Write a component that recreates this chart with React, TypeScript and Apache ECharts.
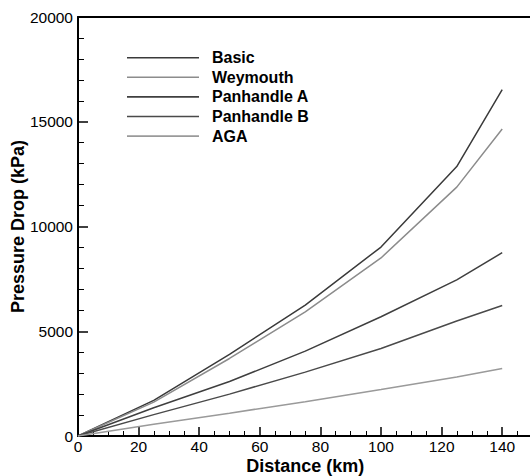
import React, { useEffect, useRef } from "react";
import * as echarts from "echarts";

const distances = [0, 25, 50, 75, 100, 125, 140];
const seriesNames = ["Basic", "Weymouth", "Panhandle A", "Panhandle B", "AGA"];
const basic = [0, 1700, 3900, 6250, 9020, 12860, 16530];
const weymouth = [0, 1620, 3700, 5930, 8500, 11880, 14650];
const panhandleA = [0, 1350, 2600, 4050, 5690, 7450, 8750];
const panhandleB = [0, 1020, 2000, 3050, 4180, 5490, 6230];
const aga = [0, 560, 1090, 1640, 2220, 2820, 3220];
const xTicks = [0, 20, 40, 60, 80, 100, 120, 140];
const yTicks = [0, 5000, 10000, 15000, 20000];

const seriesValues = [basic, weymouth, panhandleA, panhandleB, aga];
const colors = ["#3a3a3a", "#8c8c8c", "#3f3f3f", "#4a4a4a", "#9a9a9a"];
const FONT = "'Liberation Sans', Arial, sans-serif";

export default function App() {
  const ref = useRef<HTMLDivElement>(null);
  useEffect(() => {
    if (!ref.current) return;
    const chart = echarts.init(ref.current, undefined, { renderer: "svg" });
    const axisLine = { show: true, lineStyle: { color: "#000", width: 2 } };
    chart.setOption({
      animation: false,
      backgroundColor: "#fff",
      textStyle: { fontFamily: FONT },
      grid: {
        left: 78,
        top: 17,
        width: 454.5,
        height: 419,
        containLabel: false,
        outerBoundsMode: "none",
      },
      legend: {
        left: 122,
        top: 44.7,
        orient: "vertical",
        icon: "rect",
        itemWidth: 72,
        itemHeight: 1.6,
        itemGap: 3.6,
        data: seriesNames,
        textStyle: {
          fontFamily: FONT,
          fontSize: 16,
          fontWeight: "bold",
          color: "#000",
          lineHeight: 16,
          padding: [0, 0, 0, 8],
        },
      },
      xAxis: [
        {
          type: "value",
          min: 0,
          max: 150,
          interval: xTicks[1] - xTicks[0],
          name: "Distance (km)",
          nameLocation: "middle",
          nameGap: 21,
          nameMoveOverlap: false,
          nameTextStyle: { fontFamily: FONT, fontSize: 18, fontWeight: "bold", color: "#000", lineHeight: 18 },
          axisLine,
          axisTick: { show: true, inside: true, length: 9, lineStyle: { color: "#000", width: 1.5 } },
          minorTick: { show: true, splitNumber: 4, length: 5, lineStyle: { color: "#000", width: 1 } },
          axisLabel: {
            fontFamily: FONT,
            fontSize: 15.5,
            color: "#000",
            margin: 2,
            showMaxLabel: false,
            formatter: (v: number) => (xTicks.includes(v) ? String(v) : ""),
          },
          splitLine: { show: false },
        },
        {
          type: "value",
          min: 0,
          max: 150,
          position: "top",
          axisLine,
          axisTick: { show: false },
          axisLabel: { show: false },
          splitLine: { show: false },
        },
      ],
      yAxis: {
        type: "value",
        min: 0,
        max: 20000,
        interval: yTicks[1] - yTicks[0],
        name: "Pressure Drop (kPa)",
        nameLocation: "middle",
        nameGap: 51,
        nameMoveOverlap: false,
        nameTextStyle: { fontFamily: FONT, fontSize: 18, fontWeight: "bold", color: "#000", lineHeight: 18 },
        axisLine,
        axisTick: { show: true, inside: true, length: 10, lineStyle: { color: "#000", width: 1.5 } },
        minorTick: { show: true, splitNumber: 5, length: 6, lineStyle: { color: "#000", width: 1 } },
        axisLabel: {
          fontFamily: FONT,
          fontSize: 15.5,
          color: "#000",
          margin: 5,
          formatter: (v: number) => String(v),
        },
        splitLine: { show: false },
      },
      series: seriesNames.map((name, i) => ({
        name,
        type: "line",
        xAxisIndex: 0,
        symbol: "none",
        color: colors[i],
        lineStyle: { color: colors[i], width: 1.5 },
        data: distances.map((d, j) => [d, seriesValues[i][j]]),
      })),
    });
    return () => chart.dispose();
  }, []);
  return (
    <div
      ref={ref}
      style={{ position: "fixed", left: 0, top: 0, width: 530, height: 476 }}
    />
  );
}
